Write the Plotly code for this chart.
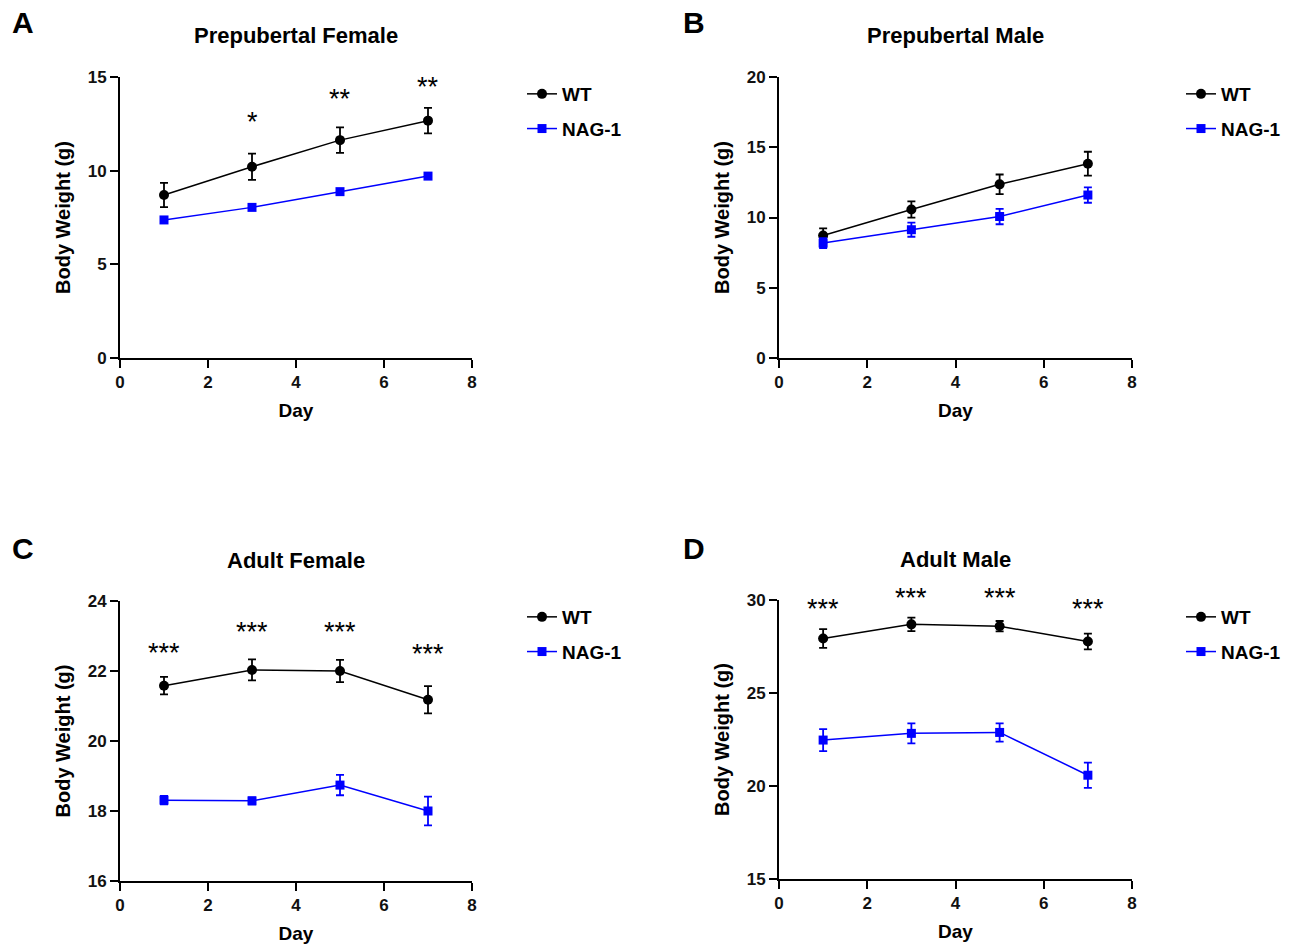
import plotly.graph_objects as go

days = [1, 3, 5, 7]

# Panel A: Prepubertal Female
a_wt = [8.70, 10.21, 11.63, 12.67]
a_wt_sem = [0.65, 0.70, 0.68, 0.68]
a_nag = [7.37, 8.04, 8.88, 9.71]
a_nag_sem = [0.15, 0.12, 0.14, 0.12]
a_sig = ["", "*", "**", "**"]
a_sig_y = [0, 12.87, 14.1, 14.73]

# Panel B: Prepubertal Male
b_wt = [8.72, 10.57, 12.36, 13.83]
b_wt_sem = [0.50, 0.58, 0.70, 0.85]
b_nag = [8.18, 9.13, 10.07, 11.60]
b_nag_sem = [0.35, 0.50, 0.55, 0.55]
b_sig = ["", "", "", ""]
b_sig_y = [0, 0, 0, 0]

# Panel C: Adult Female
c_wt = [21.58, 22.03, 22.00, 21.18]
c_wt_sem = [0.25, 0.30, 0.32, 0.39]
c_nag = [18.31, 18.29, 18.74, 18.00]
c_nag_sem = [0.12, 0.10, 0.29, 0.41]
c_sig = ["***", "***", "***", "***"]
c_sig_y = [22.67, 23.27, 23.27, 22.62]

# Panel D: Adult Male
d_wt = [27.93, 28.69, 28.59, 27.77]
d_wt_sem = [0.50, 0.36, 0.28, 0.42]
d_nag = [22.47, 22.83, 22.88, 20.58]
d_nag_sem = [0.59, 0.54, 0.49, 0.68]
d_sig = ["***", "***", "***", "***"]
d_sig_y = [29.8, 30.39, 30.39, 29.8]

titles = ["Prepubertal Female", "Prepubertal Male", "Adult Female", "Adult Male"]
letters = ["A", "B", "C", "D"]
y_ranges = [(0, 15), (0, 20), (16, 24), (15, 30)]
y_dticks = [5, 5, 2, 5]

W, H = 1293, 947
# plot-area pixel boxes (left, right, top, bottom)
boxes = [(120, 472, 77, 358), (779, 1132, 77, 358), (120, 472, 601, 881), (779, 1132, 600, 879)]
legend_pos = [(522, 75), (1181, 75), (522, 598), (1181, 598)]
letter_pos = [(23, 23), (694, 23), (23, 548), (694, 548)]

FONT = "Liberation Sans, Arial, sans-serif"
BLUE = "#0000ff"

panels = [
    (a_wt, a_wt_sem, a_nag, a_nag_sem, a_sig, a_sig_y),
    (b_wt, b_wt_sem, b_nag, b_nag_sem, b_sig, b_sig_y),
    (c_wt, c_wt_sem, c_nag, c_nag_sem, c_sig, c_sig_y),
    (d_wt, d_wt_sem, d_nag, d_nag_sem, d_sig, d_sig_y),
]

fig = go.Figure()
annotations = []
layout = {}

for i, (wt, wts, nag, nags, sig, sigy) in enumerate(panels):
    n = i + 1
    xa = "x" if n == 1 else f"x{n}"
    ya = "y" if n == 1 else f"y{n}"
    leg = "legend" if n == 1 else f"legend{n}"
    l, r, t, b = boxes[i]
    y0, y1 = y_ranges[i]
    fig.add_trace(go.Scatter(
        x=days, y=wt, xaxis=xa, yaxis=ya, name="WT", legend=leg, legendgroup=f"wt{n}",
        mode="lines+markers", line=dict(color="black", width=1.5),
        marker=dict(symbol="circle", size=10, color="black"),
        error_y=dict(type="data", array=wts, visible=True, color="black", thickness=1.8, width=4),
        cliponaxis=False,
    ))
    fig.add_trace(go.Scatter(
        x=days, y=nag, xaxis=xa, yaxis=ya, name="NAG-1", legend=leg, legendgroup=f"nag{n}",
        mode="lines+markers", line=dict(color=BLUE, width=1.5),
        marker=dict(symbol="square", size=9, color=BLUE),
        error_y=dict(type="data", array=nags, visible=True, color=BLUE, thickness=1.8, width=4),
        cliponaxis=False,
    ))
    ax_common = dict(
        showline=True, linecolor="black", linewidth=2, ticks="outside", ticklen=8,
        tickwidth=2, tickcolor="black", showgrid=False, zeroline=False, automargin=False,
        tickfont=dict(family=FONT, size=17, color="#111111", weight="bold"),
        fixedrange=True,
    )
    layout["xaxis" if n == 1 else f"xaxis{n}"] = dict(
        ax_common, domain=[l / W, r / W], anchor=ya, range=[0, 8], dtick=2, tick0=0,
        title=dict(text="Day", font=dict(family=FONT, size=19, color="black", weight="bold"), standoff=12),
    )
    layout["yaxis" if n == 1 else f"yaxis{n}"] = dict(
        ax_common, domain=[1 - b / H, 1 - t / H], anchor=xa, range=[y0, y1],
        dtick=y_dticks[i], tick0=0,
        title=dict(text="Body Weight (g)", font=dict(family=FONT, size=20, color="black", weight="bold"), standoff=12),
    )
    lx, ly = legend_pos[i]
    layout[leg] = dict(
        x=lx / W, y=1 - ly / H, xanchor="left", yanchor="top", bgcolor="rgba(0,0,0,0)",
        font=dict(family=FONT, size=19, color="black", weight="bold"),
        tracegroupgap=7, itemwidth=30,
    )
    # panel title
    annotations.append(dict(
        text=titles[i], x=(l + r) / 2 / W, y=1 - ((t - 41) / H), xref="paper", yref="paper",
        xanchor="center", yanchor="middle", showarrow=False,
        font=dict(family=FONT, size=22, color="black", weight="bold"),
    ))
    # panel letter
    px, py = letter_pos[i]
    annotations.append(dict(
        text=letters[i], x=px / W, y=1 - py / H, xref="paper", yref="paper",
        xanchor="center", yanchor="middle", showarrow=False,
        font=dict(family=FONT, size=30, color="black", weight="bold"),
    ))
    # significance stars (placed via the axis domain so they may sit above the y range)
    for d, s, sy in zip(days, sig, sigy):
        if s:
            annotations.append(dict(
                text=s, x=d, y=(sy - y0) / (y1 - y0), xref=xa, yref=f"{ya} domain",
                xanchor="center", yanchor="middle", yshift=-5,
                showarrow=False, font=dict(family=FONT, size=27, color="black"),
            ))

fig.update_layout(
    width=W, height=H, margin=dict(l=0, r=0, t=0, b=0, autoexpand=False),
    plot_bgcolor="white", paper_bgcolor="white",
    annotations=annotations, **layout,
)
fig.write_html("out.html")
